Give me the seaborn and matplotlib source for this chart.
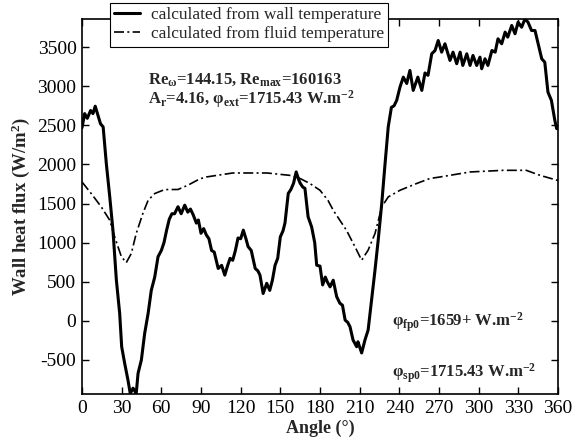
import numpy as np
import pandas as pd
import matplotlib
matplotlib.use("Agg")
import matplotlib.pyplot as plt
import seaborn as sns

# Wall heat flux calculated from the wall temperature (solid curve)
wall_angle = [0, 2, 4, 6.5, 8.3, 10, 12, 14, 16, 18.4, 21, 23.4, 26, 28.5, 30, 32.3,
              34.8, 36.5, 38.6, 41, 42.4, 44.9, 47.4, 50, 52.4, 55, 57.5, 60, 62,
              64, 66, 68, 70, 72.6, 75, 77.7, 80, 82, 84, 86.5, 88, 90, 92, 94, 96,
              98, 100, 103, 105.6, 108, 110, 112, 114, 116, 118, 120, 122, 124,
              125.6, 128, 131, 133, 134.6, 137, 139.7, 142, 144, 146, 148, 150, 152,
              153.5, 156, 158, 160, 162, 164, 165, 167, 168.6, 171, 173.7, 176,
              177.5, 180, 182, 184, 185.5, 187.6, 190, 192.6, 195, 197, 199, 201,
              202.7, 205, 207.7, 208.7, 211.5, 214, 216.4, 219, 221.6, 224, 226.7,
              229, 231.6, 234, 236, 238, 240.5, 243, 245.6, 248, 250.5, 254, 257,
              259.4, 261.7, 264.5, 267, 269.4, 272, 274.5, 278.3, 280.6, 283.4, 286,
              288, 291, 293.5, 295.7, 298.5, 301, 302.3, 304.8, 307, 310, 312.5,
              314.6, 317.4, 320, 322, 325, 327.5, 329.8, 332.5, 335, 337.3, 340,
              342.6, 345, 347.7, 350, 352.4, 355, 357.6, 359, 360]
wall_flux = [2470, 2650, 2590, 2690, 2650, 2745, 2630, 2520, 2480, 2010, 1585, 1160,
             520, 95, -330, -545, -760, -930, -860, -930, -670, -500, -160, 95, 390,
             560, 820, 900, 1000, 1160, 1300, 1370, 1370, 1460, 1370, 1480, 1390,
             1430, 1360, 1250, 1290, 1120, 1180, 1100, 1050, 900, 880, 670, 710, 585,
             700, 800, 775, 900, 1060, 1050, 1160, 1050, 950, 900, 670, 640, 585, 350,
             480, 390, 520, 710, 800, 1075, 1150, 1250, 1630, 1680, 1760, 1905, 1800,
             1760, 1710, 1695, 1330, 1200, 1000, 712, 700, 460, 560, 500, 435, 520,
             310, 226, 200, 10, -20, -75, -245, -330, -267, -410, -245, -117, 266,
             650, 1030, 1500, 1970, 2480, 2730, 2750, 2820, 2990, 3117, 3036, 3202,
             2947, 3117, 2947, 3170, 3140, 3415, 3457, 3585, 3436, 3543, 3330, 3436,
             3288, 3436, 3266, 3415, 3266, 3394, 3266, 3372, 3224, 3351, 3266, 3457,
             3436, 3607, 3543, 3692, 3628, 3777, 3671, 3820, 3755, 3860, 3820, 3713,
             3713, 3543, 3351, 3308, 2925, 2820, 2564, 2458, 2480]

# Wall heat flux calculated from the fluid temperature (dash-dot curve)
fluid_angle = [0, 7, 14.6, 21, 24.7, 29.8, 33.5, 37.3, 41, 46, 50, 55, 62.5, 72.6, 80,
               89, 94, 114, 140, 157, 165, 172.4, 180, 186, 190, 200, 206.5, 211.5,
               216.4, 221.6, 226.7, 231.6, 240.5, 253, 263, 270.8, 293.5, 318.5, 336,
               346.4, 360]
fluid_flux = [1776, 1628, 1457, 1287, 1074, 820, 745, 862, 1117, 1372, 1542, 1628,
              1679, 1680, 1734, 1815, 1840, 1891, 1891, 1861, 1820, 1756, 1670, 1542,
              1415, 1159, 946, 776, 904, 1117, 1457, 1585, 1670, 1756, 1820, 1840, 1904,
              1925, 1925, 1861, 1795]

x_ticks = list(range(0, 361, 30))
y_ticks = [-500, 0, 500, 1000, 1500, 2000, 2500, 3000, 3500]

wall_label = "calculated from wall temperature"
fluid_label = "calculated from fluid temperature"

sns.set_theme(style="ticks")
plt.rcParams.update({
    "font.family": ["Liberation Serif", "DejaVu Serif"],
    "mathtext.fontset": "custom",
    "mathtext.rm": "Liberation Serif:bold",
    "mathtext.it": "Liberation Serif:bold",
    "mathtext.bf": "Liberation Serif:bold",
    "mathtext.default": "rm",
    "axes.unicode_minus": False,
})

W, H = 583, 440
fig = plt.figure(figsize=(W / 100, H / 100), dpi=100)
ax = fig.add_axes([82 / W, 1 - 394 / H, (558 - 82) / W, (394 - 19) / H])

wall_df = pd.DataFrame({"angle": wall_angle, "flux": wall_flux})
fluid_df = pd.DataFrame({"angle": fluid_angle, "flux": fluid_flux})

sns.lineplot(data=wall_df, x="angle", y="flux", ax=ax, color="black", lw=2.2,
             label=wall_label, sort=False)
sns.lineplot(data=fluid_df, x="angle", y="flux", ax=ax, color="black", lw=1.2,
             linestyle=(0, (6, 2, 1.2, 2)), label=fluid_label, sort=False)

ax.set_xlim(0, 360)
ax.set_ylim(-935, 3860)
ax.set_xticks(x_ticks)
ax.set_yticks(y_ticks)
ax.tick_params(direction="in", length=5, width=1, labelsize=14, colors="black",
               top=True, right=True, pad=4)
for s in ax.spines.values():
    s.set_visible(True)
    s.set_linewidth(1.2)
    s.set_color("black")

ax.set_xlabel("Angle (°)", fontsize=13, fontweight="bold", labelpad=2)
ax.set_ylabel("Wall heat flux (W/m$^2$)", fontsize=13.5, fontweight="bold", labelpad=4)

leg = ax.legend(loc="upper left", bbox_to_anchor=(110 / W, 1 - 3 / H),
                bbox_transform=fig.transFigure, fontsize=12.5, frameon=True,
                fancybox=False, edgecolor="black", framealpha=1, borderaxespad=0,
                handlelength=1.5, handletextpad=0.6, borderpad=0.25, labelspacing=0.15)
leg.get_frame().set_linewidth(0.8)

fs = 12
kw = dict(fontsize=fs, fontweight="bold", va="baseline", ha="left")
fig.text(148 / W, 1 - 84 / H, "Re$_{ω}$=144.15, Re$_{max}$=160163", **kw)
fig.text(148 / W, 1 - 104 / H, "A$_{r}$=4.16, φ$_{ext}$=1715.43 W.m$^{-2}$", **kw)
fig.text(392 / W, 1 - 326 / H, "φ$_{fp0}$=1659+ W.m$^{-2}$", **kw)
fig.text(392 / W, 1 - 377 / H, "φ$_{sp0}$=1715.43 W.m$^{-2}$", **kw)

fig.savefig("out.png", dpi=100)
